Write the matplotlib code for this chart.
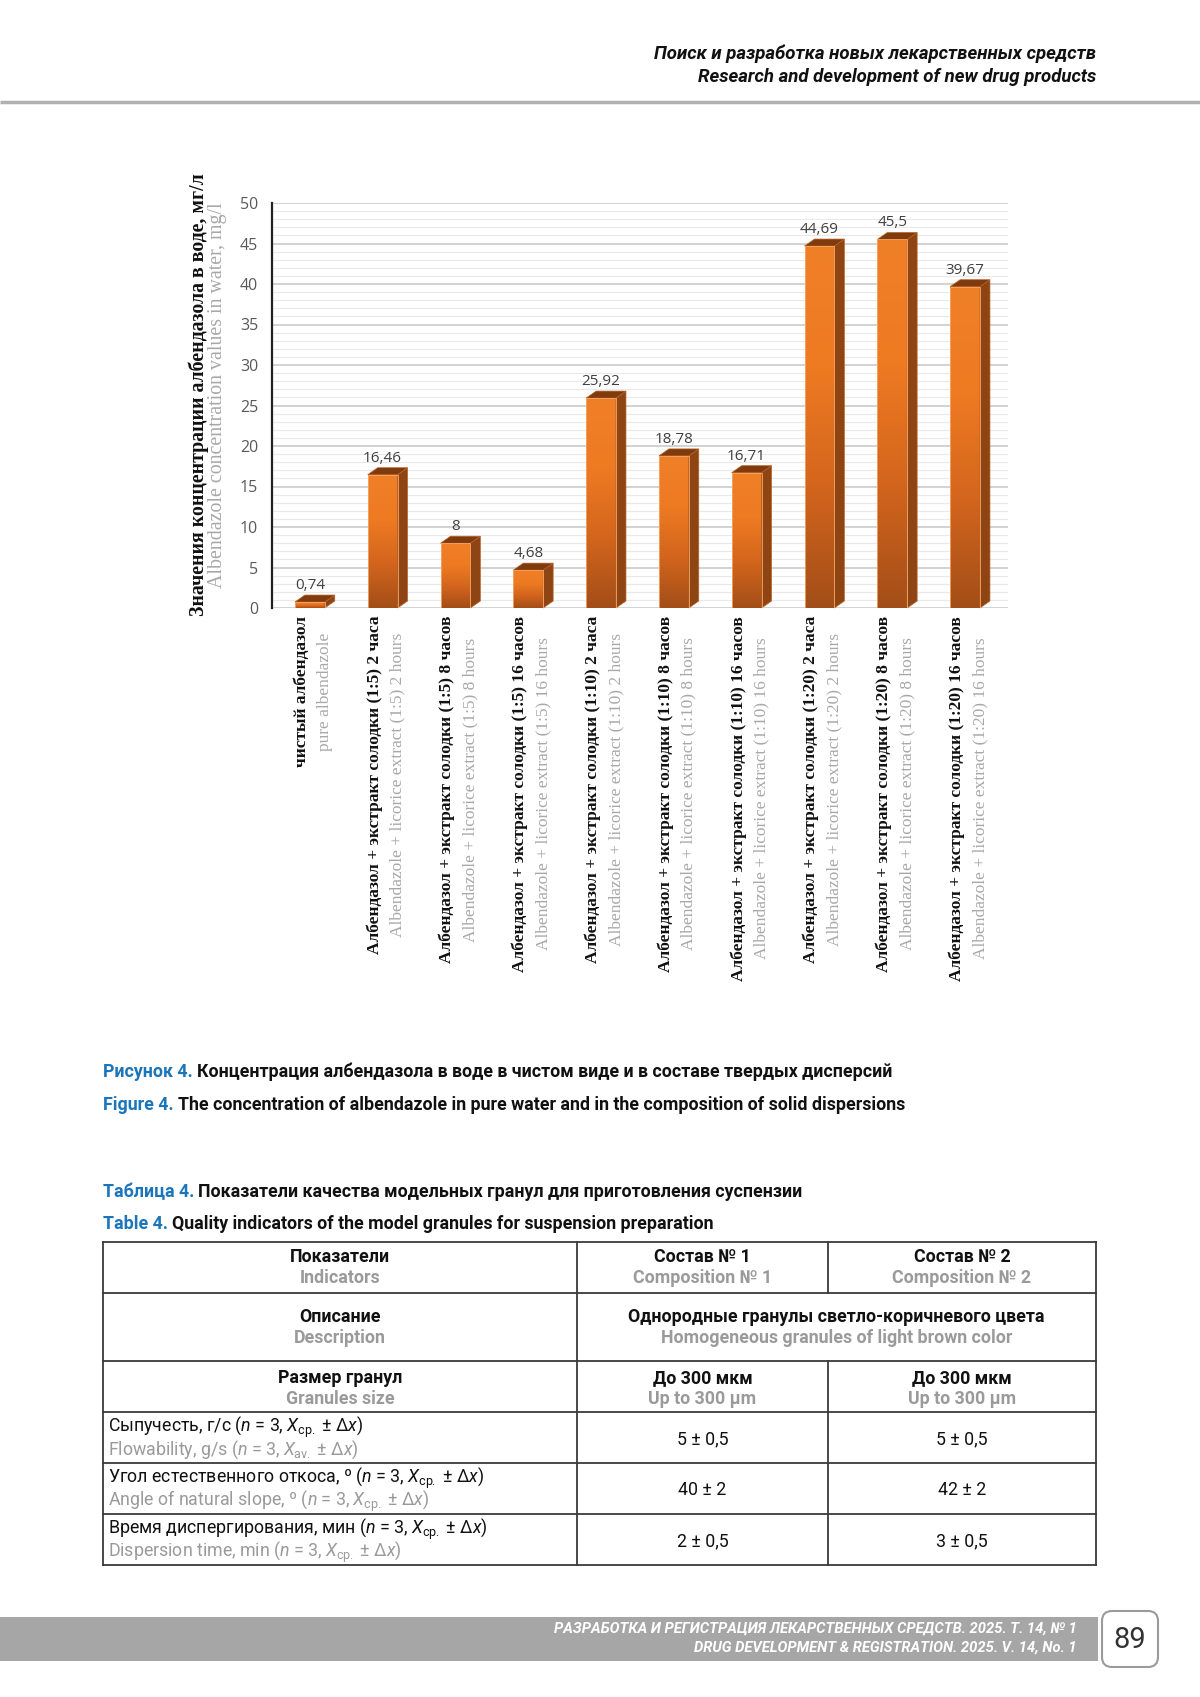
import numpy as np
import matplotlib
matplotlib.use('Agg')
import matplotlib.pyplot as plt
import matplotlib.transforms as mtransforms
from matplotlib import font_manager
from matplotlib.colors import LinearSegmentedColormap
from matplotlib.patches import Polygon, Rectangle, FancyBboxPatch
from matplotlib.ticker import MultipleLocator

values = [0.74, 16.46, 8, 4.68, 25.92, 18.78, 16.71, 44.69, 45.5, 39.67]
value_labels = ['0,74', '16,46', '8', '4,68', '25,92', '18,78', '16,71', '44,69', '45,5', '39,67']
labels_ru = ['чистый албендазол',
             'Албендазол + экстракт солодки (1:5) 2 часа',
             'Албендазол + экстракт солодки (1:5) 8 часов',
             'Албендазол + экстракт солодки (1:5) 16 часов',
             'Албендазол + экстракт солодки (1:10) 2 часа',
             'Албендазол + экстракт солодки (1:10) 8 часов',
             'Албендазол + экстракт солодки (1:10) 16 часов',
             'Албендазол + экстракт солодки (1:20) 2 часа',
             'Албендазол + экстракт солодки (1:20) 8 часов',
             'Албендазол + экстракт солодки (1:20) 16 часов']
labels_en = ['pure albendazole',
             'Albendazole + licorice extract (1:5) 2 hours',
             'Albendazole + licorice extract (1:5) 8 hours',
             'Albendazole + licorice extract (1:5) 16 hours',
             'Albendazole + licorice extract (1:10) 2 hours',
             'Albendazole + licorice extract (1:10) 8 hours',
             'Albendazole + licorice extract (1:10) 16 hours',
             'Albendazole + licorice extract (1:20) 2 hours',
             'Albendazole + licorice extract (1:20) 8 hours',
             'Albendazole + licorice extract (1:20) 16 hours']
ylabel_ru = 'Значения концентрации албендазола в воде, мг/л'
ylabel_en = 'Albendazole concentration values in water, mg/l'

# table 4
table_head_ru = ['Показатели', 'Состав № 1', 'Состав № 2']
table_head_en = ['Indicators', 'Composition № 1', 'Composition № 2']
desc_ru = ['Описание', 'Однородные гранулы светло-коричневого цвета']
desc_en = ['Description', 'Homogeneous granules of light brown color']
size_ru = ['Размер гранул', 'До 300 мкм', 'До 300 мкм']
size_en = ['Granules size', 'Up to 300 µm', 'Up to 300 µm']
rows_ru = [r'Сыпучесть, г/с ($n$ = 3, $X_{\mathrm{ср.}}$ ± Δ$x$)',
           r'Угол естественного откоса, º ($n$ = 3, $X_{\mathrm{ср.}}$ ± Δ$x$)',
           r'Время диспергирования, мин ($n$ = 3, $X_{\mathrm{ср.}}$ ± Δ$x$)']
rows_en = [r'Flowability, g/s ($n$ = 3, $X_{\mathrm{av.}}$ ± Δ$x$)',
           r'Angle of natural slope, º ($n$ = 3, $X_{\mathrm{ср.}}$ ± Δ$x$)',
           r'Dispersion time, min ($n$ = 3, $X_{\mathrm{ср.}}$ ± Δ$x$)']
comp1 = ['5 ± 0,5', '40 ± 2', '2 ± 0,5']
comp2 = ['5 ± 0,5', '42 ± 2', '3 ± 0,5']

names = {f.name for f in font_manager.fontManager.ttflist}
COND = 'Liberation Sans Narrow' if 'Liberation Sans Narrow' in names else 'Roboto'
SERIF = 'Liberation Serif'
SANS = 'Open Sans'
plt.rcParams['mathtext.fontset'] = 'custom'
plt.rcParams['mathtext.rm'] = COND
plt.rcParams['mathtext.it'] = COND + ':italic'

BLUE = '#1a75bb'
GREY_TXT = '#9a9a9a'

fig = plt.figure(figsize=(12, 16.97), dpi=100)
R = fig.canvas.get_renderer()


def fit(t, target, vertical=False):
    bb = t.get_window_extent(R)
    size = bb.height if vertical else bb.width
    t.set_fontsize(t.get_fontsize() * target / size)
    return t.get_fontsize()


# page layer in pixel coordinates
page = fig.add_axes([0, 0, 1, 1], zorder=0)
page.set_xlim(0, 1200)
page.set_ylim(1697, 0)
page.axis('off')

# header
h1 = page.text(1096, 54, 'Поиск и разработка новых лекарственных средств', ha='right', va='center',
               family=COND, weight='bold', style='italic', fontsize=14, color='#111111')
fs_h = fit(h1, 443)
page.text(1096, 77, 'Research and development of new drug products', ha='right', va='center',
          family=COND, weight='bold', style='italic', fontsize=fs_h, color='#111111')
page.plot([0, 1200], [102, 102], color='#b0b0b0', lw=2.5, solid_capstyle='butt')

# chart
ax = fig.add_axes([272 / 1200, 1 - 608 / 1697, (1008 - 272) / 1200, 405 / 1697], zorder=1)
ax.set_facecolor('none')
x = np.arange(len(values))
ax.set_xlim(-0.52, 9.59)
ax.set_ylim(0, 50)
ax.yaxis.set_major_locator(MultipleLocator(5))
ax.yaxis.set_minor_locator(MultipleLocator(1))
ax.grid(which='major', axis='y', color='#d2d2d2', lw=1.4)
ax.grid(which='minor', axis='y', color='#e9e9e9', lw=0.8)
ax.set_axisbelow(True)
ax.set_xticks([])
ax.tick_params(axis='y', which='both', length=0, pad=10, labelsize=11.5, labelcolor='#595959')
for lab in ax.get_yticklabels():
    lab.set_family(SANS)
for s in ['top', 'right', 'bottom']:
    ax.spines[s].set_visible(False)
ax.spines['left'].set_color('#222222')
ax.spines['left'].set_linewidth(1.6)

front_cmap = LinearSegmentedColormap.from_list('front', ['#a34e18', '#d3651d', '#ee7a22', '#f08028'])
w = 0.41
dx = 0.137
dy = 0.86
grad = np.linspace(0, 1, 128).reshape(-1, 1)
for xi, v, vl in zip(x, values, value_labels):
    ax.imshow(grad, cmap=front_cmap, aspect='auto', origin='lower',
              extent=(xi - w / 2, xi + w / 2, 0, v), zorder=3)
    ax.add_patch(Rectangle((xi - w / 2, 0), w, v, fill=False, edgecolor='#f5a868', lw=0.6, zorder=4))
    ax.add_patch(Polygon([(xi + w / 2, 0), (xi + w / 2 + dx, dy), (xi + w / 2 + dx, v + dy), (xi + w / 2, v)],
                         closed=True, facecolor='#8e4413', edgecolor='#b86224', lw=0.5, zorder=3, clip_on=False))
    ax.add_patch(Polygon([(xi - w / 2, v), (xi + w / 2, v), (xi + w / 2 + dx, v + dy), (xi - w / 2 + dx, v + dy)],
                         closed=True, facecolor='#7f3a0e', edgecolor='#b86224', lw=0.5, zorder=3, clip_on=False))
    ax.text(xi, v + dy + 0.25, vl, ha='center', va='bottom', family=SANS, fontsize=11, color='#404040',
            zorder=5, clip_on=False)

# category labels: bold russian line, grey english line, both centred on one point
xtr = ax.get_xaxis_transform()
probe = ax.text(0, 0, labels_ru[1], rotation=90, family=SERIF, weight='bold', fontsize=12)
fs_x = fit(probe, 338, vertical=True)
probe.remove()
for xi, ru, en in zip(x, labels_ru, labels_en):
    t1 = ax.text(xi, 0, ru, rotation=90, rotation_mode='anchor', ha='right', va='baseline',
                 family=SERIF, weight='bold', fontsize=fs_x, color='#111111', clip_on=False,
                 transform=mtransforms.offset_copy(xtr, fig=fig, x=-4, y=-8, units='dots'))
    length = t1.get_window_extent(R).height
    ax.text(xi, 0, en, rotation=90, rotation_mode='anchor', ha='center', va='baseline', family=SERIF,
            fontsize=fs_x, color='#a8a8a8', clip_on=False,
            transform=mtransforms.offset_copy(xtr, fig=fig, x=19, y=-8 - length / 2, units='dots'))

# y axis title
yt = page.text(204, 395, ylabel_ru, rotation=90, rotation_mode='anchor', ha='center', va='baseline',
               family=SERIF, weight='bold', fontsize=13, color='#111111')
fs_y = fit(yt, 440, vertical=True)
page.text(222, 395, ylabel_en, rotation=90, rotation_mode='anchor', ha='center', va='baseline',
          family=SERIF, fontsize=fs_y, color='#a8a8a8')


# captions
def caption(y, lead, rest, size=None, target=None):
    t = page.text(103, y, lead, ha='left', va='center', family=COND, weight='bold',
                  fontsize=size or 13, color=BLUE)
    t2 = page.text(0, y, rest, ha='left', va='center', family=COND, weight='bold',
                   fontsize=size or 13, color='#111111')
    if target:
        total = t.get_window_extent(R).width + t2.get_window_extent(R).width + 4
        s = t.get_fontsize() * target / total
        t.set_fontsize(s)
        t2.set_fontsize(s)
    t2.set_x(t.get_window_extent(R).x1 + 4)
    return t.get_fontsize()


fs_c = caption(1072, 'Рисунок 4.', 'Концентрация албендазола в воде в чистом виде и в составе твердых дисперсий',
               target=788)
caption(1105, 'Figure 4.', 'The concentration of albendazole in pure water and in the composition of solid dispersions',
        size=fs_c)
caption(1192, 'Таблица 4.', 'Показатели качества модельных гранул для приготовления суспензии', size=fs_c)
caption(1224, 'Table 4.', 'Quality indicators of the model granules for suspension preparation', size=fs_c)

# table grid
L, C1, C2, RT = 103, 577, 828, 1096
rows_y = [1242, 1293, 1361, 1412, 1463, 1514, 1565]
lc = '#3a3a3a'
for yy in rows_y:
    page.plot([L, RT], [yy, yy], color=lc, lw=1.3)
for xx in [L, RT, C1]:
    page.plot([xx, xx], [rows_y[0], rows_y[-1]], color=lc, lw=1.3)
page.plot([C2, C2], [rows_y[0], rows_y[1]], color=lc, lw=1.3)
page.plot([C2, C2], [rows_y[2], rows_y[-1]], color=lc, lw=1.3)

cx = [(L + C1) / 2, (C1 + C2) / 2, (C2 + RT) / 2]
fs_t = fs_c


def cell(xc, y0, ru, en, bold=True, ha='center', gap=21):
    page.text(xc, y0, ru, ha=ha, va='center', family=COND, weight='bold' if bold else 'normal',
              fontsize=fs_t, color='#111111')
    page.text(xc, y0 + gap, en, ha=ha, va='center', family=COND, weight='bold' if bold else 'normal',
              fontsize=fs_t, color=GREY_TXT)


for c, ru, en in zip(cx, table_head_ru, table_head_en):
    cell(c, 1257, ru, en)
cell(cx[0], 1317, desc_ru[0], desc_en[0])
cell((C1 + RT) / 2, 1317, desc_ru[1], desc_en[1])
for c, ru, en in zip(cx, size_ru, size_en):
    cell(c, 1378, ru, en)
for i, (ru, en, a, b) in enumerate(zip(rows_ru, rows_en, comp1, comp2)):
    y0 = 1427 + i * 51
    cell(108, y0, ru, en, bold=False, ha='left', gap=23)
    page.text(cx[1], y0 + 12, a, ha='center', va='center', family=COND, fontsize=fs_t, color='#111111')
    page.text(cx[2], y0 + 12, b, ha='center', va='center', family=COND, fontsize=fs_t, color='#111111')

# footer
page.add_patch(Rectangle((0, 1617), 1098, 44, facecolor='#a6a6a6', edgecolor='none'))
f1 = page.text(1077, 1629, 'РАЗРАБОТКА И РЕГИСТРАЦИЯ ЛЕКАРСТВЕННЫХ СРЕДСТВ. 2025. Т. 14, № 1', ha='right',
               va='center', family=COND, weight='bold', style='italic', fontsize=11, color='white')
fs_f = fit(f1, 522)
page.text(1077, 1648, 'DRUG DEVELOPMENT & REGISTRATION. 2025. V. 14, No. 1', ha='right', va='center',
          family=COND, weight='bold', style='italic', fontsize=fs_f, color='white')
page.add_patch(FancyBboxPatch((1102, 1611), 56, 56, boxstyle='round,pad=0,rounding_size=10',
                              facecolor='white', edgecolor='#9a9a9a', lw=1.5))
page.text(1130, 1640, '89', ha='center', va='center', family=COND, fontsize=21, color='#333333')

fig.savefig('out.png', dpi=100)
